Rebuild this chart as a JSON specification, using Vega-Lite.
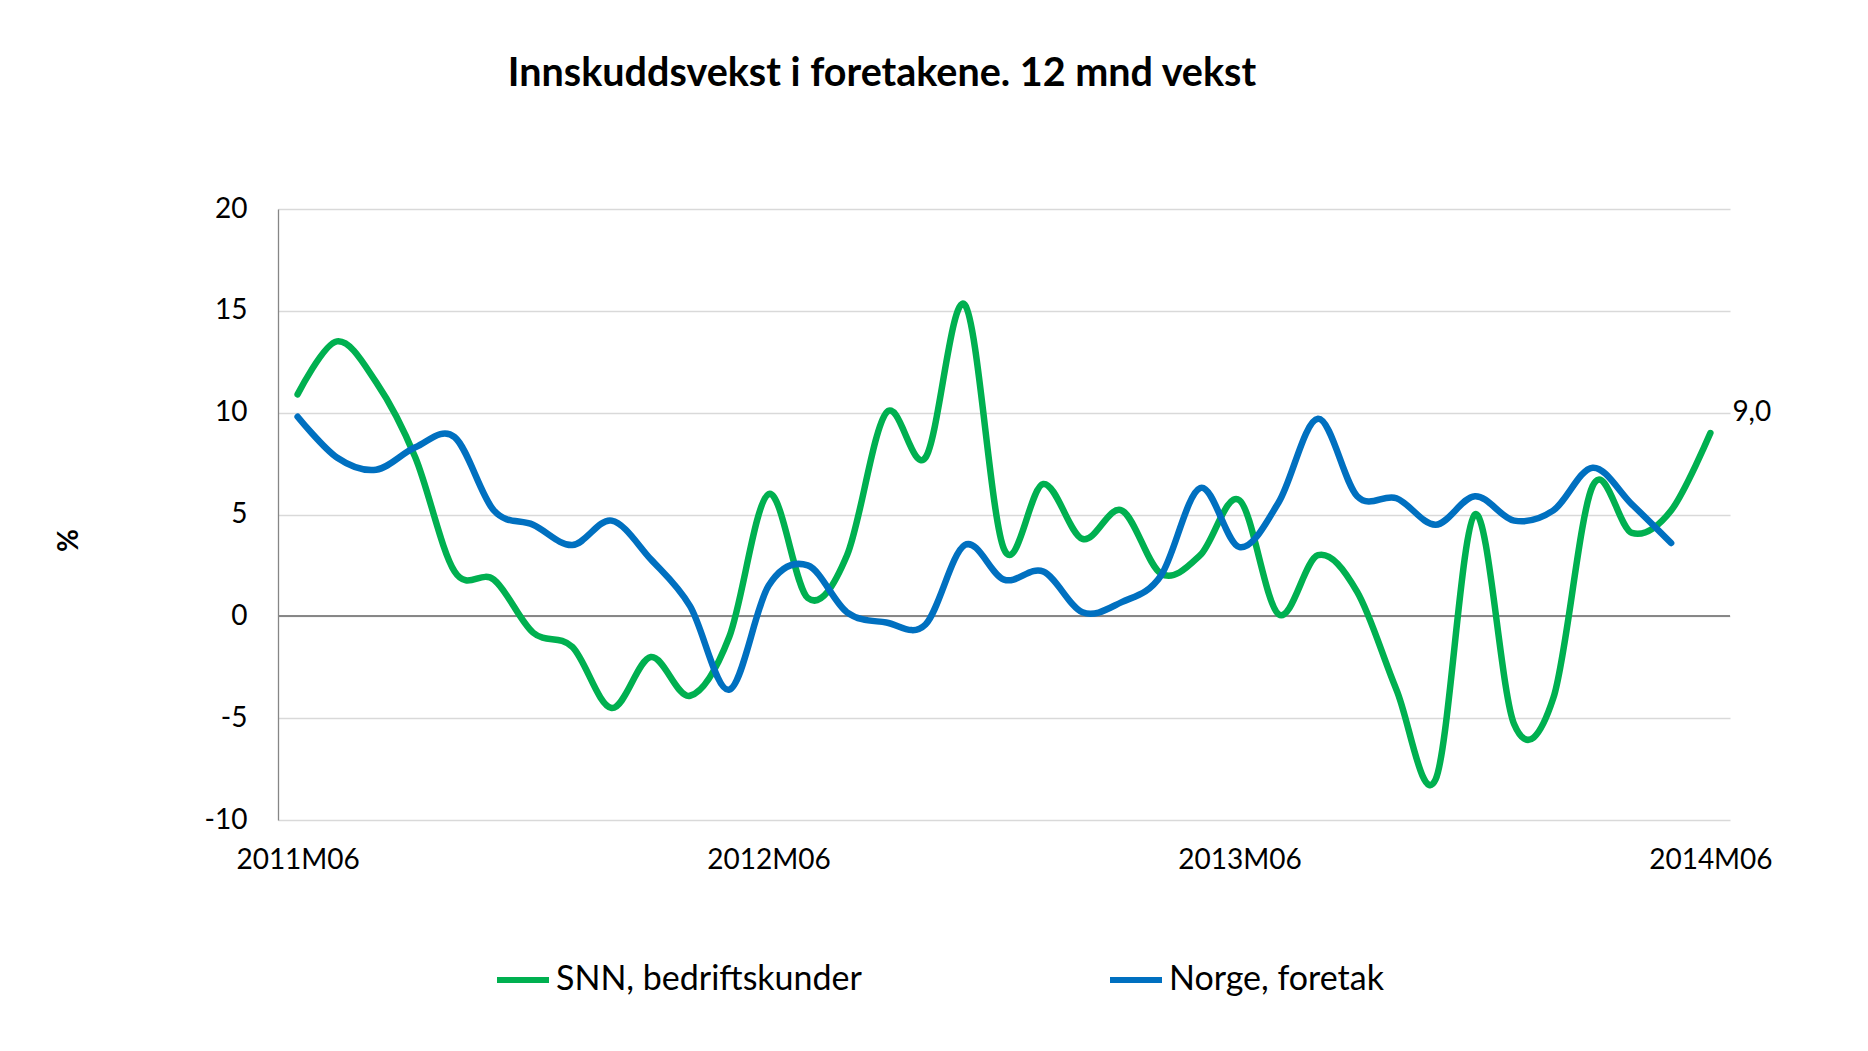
{
  "$schema": "https://vega.github.io/schema/vega-lite/v6.json",
  "width": 1452,
  "height": 611,
  "autosize": {"type": "none"},
  "padding": {"left": 278, "top": 209, "right": 138, "bottom": 231},
  "background": "white",
  "config": {
    "font": "Lato",
    "view": {"stroke": null},
    "locale": {"number": {"decimal": ",", "thousands": " ", "grouping": [3], "currency": ["", " kr"], "minus": "-"}}
  },
  "title": {
    "text": "Innskuddsvekst i foretakene. 12 mnd vekst",
    "font": "Lato",
    "fontSize": 39.5,
    "fontWeight": "bold",
    "color": "#000000",
    "anchor": "middle",
    "frame": "group",
    "baseline": "alphabetic",
    "dx": -122,
    "offset": 70
  },
  "data": {
    "values": [
      {"m": "2011M06", "s": "SNN, bedriftskunder", "v": 10.9},
      {"m": "2011M07", "s": "SNN, bedriftskunder", "v": 13.5},
      {"m": "2011M08", "s": "SNN, bedriftskunder", "v": 11.5},
      {"m": "2011M09", "s": "SNN, bedriftskunder", "v": 7.8},
      {"m": "2011M10", "s": "SNN, bedriftskunder", "v": 2.2},
      {"m": "2011M11", "s": "SNN, bedriftskunder", "v": 1.8},
      {"m": "2011M12", "s": "SNN, bedriftskunder", "v": -0.8},
      {"m": "2012M01", "s": "SNN, bedriftskunder", "v": -1.5},
      {"m": "2012M02", "s": "SNN, bedriftskunder", "v": -4.5},
      {"m": "2012M03", "s": "SNN, bedriftskunder", "v": -2.0},
      {"m": "2012M04", "s": "SNN, bedriftskunder", "v": -3.9},
      {"m": "2012M05", "s": "SNN, bedriftskunder", "v": -1.0},
      {"m": "2012M06", "s": "SNN, bedriftskunder", "v": 6.0},
      {"m": "2012M07", "s": "SNN, bedriftskunder", "v": 0.9},
      {"m": "2012M08", "s": "SNN, bedriftskunder", "v": 3.0},
      {"m": "2012M09", "s": "SNN, bedriftskunder", "v": 10.0},
      {"m": "2012M10", "s": "SNN, bedriftskunder", "v": 7.8},
      {"m": "2012M11", "s": "SNN, bedriftskunder", "v": 15.3},
      {"m": "2012M12", "s": "SNN, bedriftskunder", "v": 3.3},
      {"m": "2013M01", "s": "SNN, bedriftskunder", "v": 6.5},
      {"m": "2013M02", "s": "SNN, bedriftskunder", "v": 3.8},
      {"m": "2013M03", "s": "SNN, bedriftskunder", "v": 5.2},
      {"m": "2013M04", "s": "SNN, bedriftskunder", "v": 2.1},
      {"m": "2013M05", "s": "SNN, bedriftskunder", "v": 3.0},
      {"m": "2013M06", "s": "SNN, bedriftskunder", "v": 5.7},
      {"m": "2013M07", "s": "SNN, bedriftskunder", "v": 0.1},
      {"m": "2013M08", "s": "SNN, bedriftskunder", "v": 3.0},
      {"m": "2013M09", "s": "SNN, bedriftskunder", "v": 1.2},
      {"m": "2013M10", "s": "SNN, bedriftskunder", "v": -3.6},
      {"m": "2013M11", "s": "SNN, bedriftskunder", "v": -8.0},
      {"m": "2013M12", "s": "SNN, bedriftskunder", "v": 5.0},
      {"m": "2014M01", "s": "SNN, bedriftskunder", "v": -5.3},
      {"m": "2014M02", "s": "SNN, bedriftskunder", "v": -4.0},
      {"m": "2014M03", "s": "SNN, bedriftskunder", "v": 6.4},
      {"m": "2014M04", "s": "SNN, bedriftskunder", "v": 4.1},
      {"m": "2014M05", "s": "SNN, bedriftskunder", "v": 5.2},
      {"m": "2014M06", "s": "SNN, bedriftskunder", "v": 9.0},
      {"m": "2011M06", "s": "Norge, foretak", "v": 9.8},
      {"m": "2011M07", "s": "Norge, foretak", "v": 7.8},
      {"m": "2011M08", "s": "Norge, foretak", "v": 7.2},
      {"m": "2011M09", "s": "Norge, foretak", "v": 8.3},
      {"m": "2011M10", "s": "Norge, foretak", "v": 8.8},
      {"m": "2011M11", "s": "Norge, foretak", "v": 5.2},
      {"m": "2011M12", "s": "Norge, foretak", "v": 4.5},
      {"m": "2012M01", "s": "Norge, foretak", "v": 3.5},
      {"m": "2012M02", "s": "Norge, foretak", "v": 4.7},
      {"m": "2012M03", "s": "Norge, foretak", "v": 2.8},
      {"m": "2012M04", "s": "Norge, foretak", "v": 0.5},
      {"m": "2012M05", "s": "Norge, foretak", "v": -3.6},
      {"m": "2012M06", "s": "Norge, foretak", "v": 1.5},
      {"m": "2012M07", "s": "Norge, foretak", "v": 2.5},
      {"m": "2012M08", "s": "Norge, foretak", "v": 0.2},
      {"m": "2012M09", "s": "Norge, foretak", "v": -0.3},
      {"m": "2012M10", "s": "Norge, foretak", "v": -0.4},
      {"m": "2012M11", "s": "Norge, foretak", "v": 3.5},
      {"m": "2012M12", "s": "Norge, foretak", "v": 1.8},
      {"m": "2013M01", "s": "Norge, foretak", "v": 2.2},
      {"m": "2013M02", "s": "Norge, foretak", "v": 0.2},
      {"m": "2013M03", "s": "Norge, foretak", "v": 0.7},
      {"m": "2013M04", "s": "Norge, foretak", "v": 2.0},
      {"m": "2013M05", "s": "Norge, foretak", "v": 6.3},
      {"m": "2013M06", "s": "Norge, foretak", "v": 3.4},
      {"m": "2013M07", "s": "Norge, foretak", "v": 5.6},
      {"m": "2013M08", "s": "Norge, foretak", "v": 9.7},
      {"m": "2013M09", "s": "Norge, foretak", "v": 5.9},
      {"m": "2013M10", "s": "Norge, foretak", "v": 5.8},
      {"m": "2013M11", "s": "Norge, foretak", "v": 4.5},
      {"m": "2013M12", "s": "Norge, foretak", "v": 5.9},
      {"m": "2014M01", "s": "Norge, foretak", "v": 4.7},
      {"m": "2014M02", "s": "Norge, foretak", "v": 5.2},
      {"m": "2014M03", "s": "Norge, foretak", "v": 7.3},
      {"m": "2014M04", "s": "Norge, foretak", "v": 5.5},
      {"m": "2014M05", "s": "Norge, foretak", "v": 3.6}
    ]
  },
  "encoding": {
    "x": {
      "field": "m",
      "type": "ordinal",
      "sort": null,
      "scale": {"type": "point", "padding": 0.5},
      "axis": {
        "values": ["2011M06", "2012M06", "2013M06", "2014M06"],
        "title": null,
        "domain": false,
        "ticks": false,
        "grid": false,
        "labelAngle": 0,
        "labelFont": "Lato",
        "labelFontSize": 28,
        "labelColor": "#000000",
        "labelPadding": 26
      }
    },
    "y": {
      "field": "v",
      "type": "quantitative",
      "scale": {"domain": [-10, 20], "nice": false, "zero": false},
      "axis": {
        "values": [-10, -5, 0, 5, 10, 15, 20],
        "grid": true,
        "gridColor": "#d9d9d9",
        "gridWidth": 1.3,
        "domain": true,
        "domainColor": "#868686",
        "domainWidth": 1.3,
        "ticks": false,
        "labelFont": "Lato",
        "labelFontSize": 28,
        "labelColor": "#000000",
        "labelPadding": 31,
        "title": "%",
        "titleFont": "Lato",
        "titleFontSize": 28,
        "titleFontWeight": "bold",
        "titleColor": "#000000",
        "titlePadding": 121,
        "titleY": 331
      }
    }
  },
  "layer": [
    {
      "mark": {"type": "rule", "color": "#868686", "strokeWidth": 1.3},
      "encoding": {"y": {"datum": 0}, "x": {"value": 0}, "x2": {"value": 1452}}
    },
    {
      "mark": {"type": "line", "interpolate": "cardinal", "tension": 0, "strokeWidth": 6.5, "strokeCap": "round", "strokeJoin": "round"},
      "encoding": {
        "color": {
          "field": "s",
          "type": "nominal",
          "scale": {"domain": ["SNN, bedriftskunder", "Norge, foretak"], "range": ["#00B050", "#0070C0"]},
          "legend": {
            "orient": "none",
            "legendX": 216,
            "legendY": 742,
            "direction": "horizontal",
            "title": null,
            "symbolType": "stroke",
            "symbolSize": 2704,
            "symbolStrokeWidth": 6,
            "labelFont": "Lato",
            "labelFontSize": 34,
            "labelColor": "#000000",
            "labelOffset": 4,
            "labelLimit": 0,
            "columnPadding": 236
          }
        }
      }
    },
    {
      "transform": [{"filter": "datum.m == '2014M06' && datum.s == 'SNN, bedriftskunder'"}],
      "mark": {"type": "text", "align": "left", "baseline": "middle", "dx": 22, "dy": -20, "fontSize": 28, "font": "Lato", "color": "#000000"},
      "encoding": {"text": {"field": "v", "type": "quantitative", "format": ".1f"}}
    }
  ]
}
